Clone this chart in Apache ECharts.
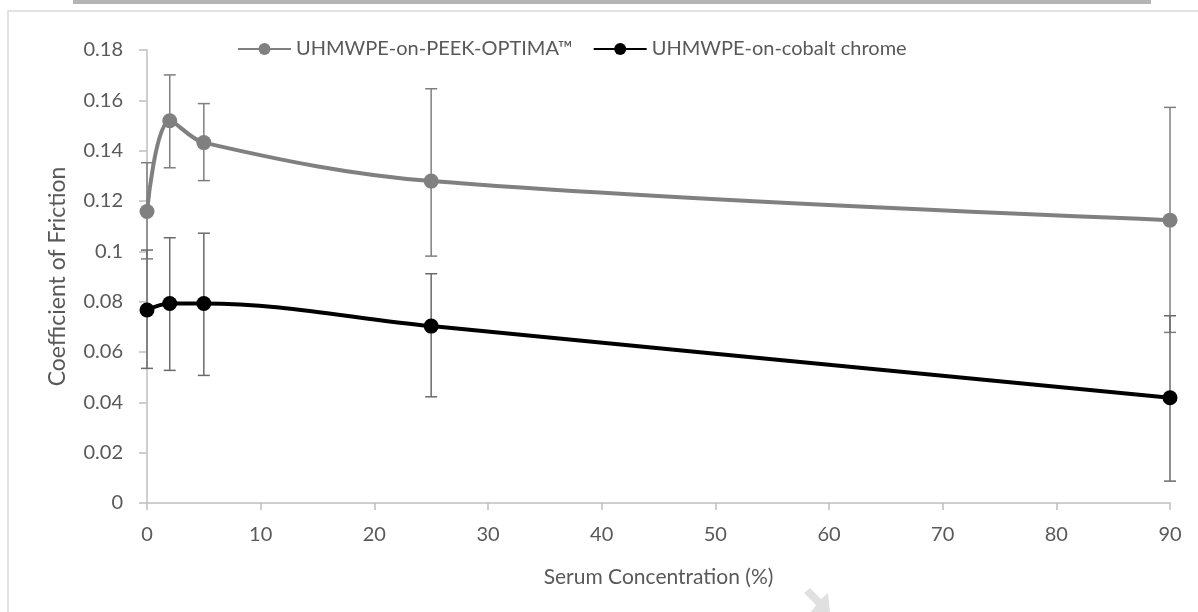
<!DOCTYPE html>
<html>
<head>
<meta charset="utf-8">
<script src="https://cdn.jsdelivr.net/npm/echarts@6/dist/echarts.min.js"></script>
<style>
html,body{margin:0;padding:0;background:#fff;}
#c{width:1198px;height:612px;}
</style>
</head>
<body>
<div id="c"></div>
<script>
// Data
var serumConc = [0, 2, 5, 25, 90];
var peekMean = [0.1158, 0.1519, 0.1432, 0.1279, 0.1124];
var peekLow  = [0.0970, 0.1332, 0.1281, 0.0981, 0.0678];
var peekHigh = [0.1352, 0.1701, 0.1587, 0.1646, 0.1572];
var cocrMean = [0.0767, 0.0793, 0.0793, 0.0703, 0.0418];
var cocrLow  = [0.0535, 0.0527, 0.0507, 0.0422, 0.0087];
var cocrHigh = [0.1005, 0.1054, 0.1072, 0.0911, 0.0744];
var seriesNames = ['UHMWPE-on-PEEK-OPTIMA\u2122', 'UHMWPE-on-cobalt chrome'];
var xTicks = [0, 10, 20, 30, 40, 50, 60, 70, 80, 90];
var yTicks = [0, 0.02, 0.04, 0.06, 0.08, 0.1, 0.12, 0.14, 0.16, 0.18];

var FONT = 'Lato';
var TXT = '#595959';

function zip(a, b) { return a.map(function (v, i) { return [v, b[i]]; }); }
function zip3(a, b, c) { return a.map(function (v, i) { return [v, b[i], c[i]]; }); }

function errRender(color) {
  return function (params, api) {
    var x = api.value(0);
    var lo = api.coord([x, api.value(1)]);
    var hi = api.coord([x, api.value(2)]);
    var hw = 6;
    var st = { stroke: color, lineWidth: 1.5 };
    return {
      type: 'group',
      children: [
        { type: 'line', shape: { x1: lo[0], y1: lo[1], x2: hi[0], y2: hi[1] }, style: st },
        { type: 'line', shape: { x1: lo[0] - hw, y1: lo[1], x2: lo[0] + hw, y2: lo[1] }, style: st },
        { type: 'line', shape: { x1: hi[0] - hw, y1: hi[1], x2: hi[0] + hw, y2: hi[1] }, style: st }
      ]
    };
  };
}

var chart = echarts.init(document.getElementById('c'));
chart.setOption({
  backgroundColor: '#fff',
  animation: false,
  textStyle: { fontFamily: FONT },
  graphic: [
    { type: 'rect', left: 73, top: 0, shape: { width: 1078, height: 4 }, style: { fill: '#b4b4b4' }, silent: true },
    { type: 'rect', shape: { x: 8, y: 11, width: 1200, height: 620 }, style: { fill: 'none', stroke: '#d9d9d9', lineWidth: 1.5 }, silent: true, z: -1 },
    { type: 'polygon', shape: { points: [[804, 593], [810, 588], [821, 599], [828, 593], [830, 612], [811, 612], [816, 605]] }, style: { fill: '#e0e0e0' }, silent: true }
  ],
  legend: {
    left: 232,
    top: 34,
    itemWidth: 53,
    itemHeight: 15,
    itemGap: 20,
    textStyle: { fontFamily: FONT, fontSize: 20, color: TXT },
    data: seriesNames
  },
  grid: { left: 147, right: 28, top: 50, bottom: 109, containLabel: false },
  xAxis: {
    type: 'value',
    min: xTicks[0],
    max: xTicks[xTicks.length - 1],
    interval: 10,
    name: 'Serum Concentration (%)',
    nameLocation: 'middle',
    nameGap: 64,
    nameTextStyle: { fontFamily: FONT, fontSize: 21, color: TXT },
    axisLine: { lineStyle: { color: '#bfbfbf', width: 1.5 } },
    axisTick: { show: true, length: 7, lineStyle: { color: '#bfbfbf', width: 1.5 } },
    axisLabel: { fontFamily: FONT, fontSize: 20, color: TXT, margin: 22 },
    splitLine: { show: false }
  },
  yAxis: {
    type: 'value',
    min: yTicks[0],
    max: yTicks[yTicks.length - 1],
    interval: 0.02,
    name: 'Coefficient of Friction',
    nameLocation: 'middle',
    nameGap: 78,
    nameTextStyle: { fontFamily: FONT, fontSize: 23, color: TXT },
    axisLine: { show: true, lineStyle: { color: '#bfbfbf', width: 1.5 } },
    axisTick: { show: true, length: 8, lineStyle: { color: '#bfbfbf', width: 1.5 } },
    axisLabel: { fontFamily: FONT, fontSize: 20, color: TXT, margin: 24,
      formatter: function (v) { return String(+v.toFixed(2)); } },
    splitLine: { show: false }
  },
  series: [
    {
      name: seriesNames[0] + ' err',
      type: 'custom',
      renderItem: errRender('#7f7f7f'),
      data: zip3(serumConc, peekLow, peekHigh),
      encode: { x: 0, y: [1, 2] },
      z: 1,
      silent: true
    },
    {
      name: seriesNames[1] + ' err',
      type: 'custom',
      renderItem: errRender('#6a6a6a'),
      data: zip3(serumConc, cocrLow, cocrHigh),
      encode: { x: 0, y: [1, 2] },
      z: 1,
      silent: true
    },
    {
      name: seriesNames[0],
      type: 'line',
      data: zip(serumConc, peekMean),
      smooth: 0.35,
      symbol: 'circle',
      symbolSize: 15,
      itemStyle: { color: '#808080' },
      lineStyle: { color: '#808080', width: 4 },
      z: 3
    },
    {
      name: seriesNames[1],
      type: 'line',
      data: zip(serumConc, cocrMean),
      smooth: 0.35,
      symbol: 'circle',
      symbolSize: 15,
      itemStyle: { color: '#000000' },
      lineStyle: { color: '#000000', width: 4 },
      z: 4
    }
  ]
});
</script>
</body>
</html>
